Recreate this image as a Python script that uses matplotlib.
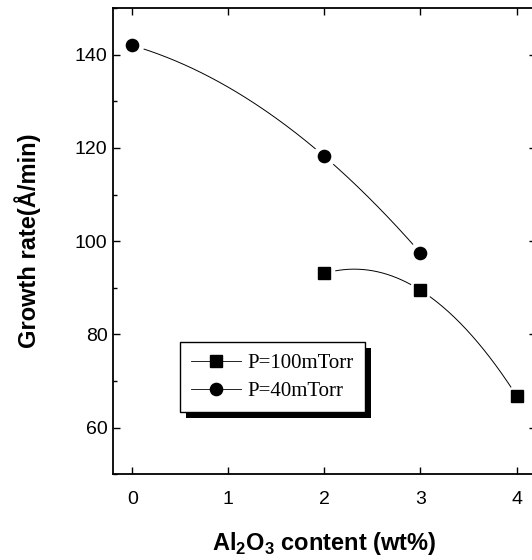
import numpy as np
import matplotlib
matplotlib.use('Agg')
import matplotlib.pyplot as plt
from matplotlib.patches import Rectangle
from matplotlib.transforms import IdentityTransform

# data
x_40 = [0, 2, 3]
y_40 = [142.0, 118.2, 97.5]
x_100 = [2, 3, 4]
y_100 = [93.1, 89.5, 66.9]
xticks = [0, 1, 2, 3, 4]
yticks = [60, 80, 100, 120, 140]

plt.rcParams['font.family'] = ['Liberation Sans', 'DejaVu Sans']

fig = plt.figure(figsize=(5.32, 5.6), dpi=100)
ax = fig.add_axes([0.2124, 0.1529, 0.7946, 0.8326])


def smooth(xs, ys):
    # quadratic through the three points, like the Origin spline
    c = np.polyfit(xs, ys, 2)
    xx = np.linspace(xs[0], xs[-1], 200)
    return xx, np.polyval(c, xx)


for xs, ys, m, ms in [(x_100, y_100, 's', 8.0), (x_40, y_40, 'o', 8.8)]:
    xx, yy = smooth(xs, ys)
    ax.plot(xx, yy, color='k', lw=0.7, zorder=2)
    ax.plot(xs, ys, ls='none', marker='o', ms=ms + 7, color='white', zorder=3)
    ax.plot(xs, ys, ls='none', marker=m, ms=ms, color='k', zorder=4)

# legend handles
h1, = ax.plot([], [], color='k', lw=0.6, marker='s', ms=8.0, label='P=100mTorr')
h2, = ax.plot([], [], color='k', lw=0.6, marker='o', ms=8.8, label='P=40mTorr')

ax.set_xlim(-0.2, 4.2)
ax.set_ylim(50, 150)
ax.set_xticks(xticks)
ax.set_yticks(yticks)
ax.set_yticks(np.arange(50, 151, 10), minor=True)
ax.tick_params(which='both', direction='in', top=True, right=True, labelsize=14, width=1.0)
ax.tick_params(which='major', length=5)
ax.tick_params(which='minor', length=3)
ax.tick_params(axis='x', pad=12)
ax.tick_params(axis='y', pad=4)
for s in ax.spines.values():
    s.set_linewidth(1.3)

ax.set_xlabel('Al$_\\mathregular{2}$O$_\\mathregular{3}$ content (wt%)', fontsize=17,
              fontweight='bold', labelpad=16)
ax.set_ylabel('Growth rate(Å/min)', fontsize=17, fontweight='bold', labelpad=24)

leg = ax.legend(handles=[h1, h2], loc='upper left', bbox_to_anchor=(0.158, 0.284),
                borderaxespad=0, frameon=True, fancybox=False, edgecolor='k', framealpha=1,
                prop={'family': 'Liberation Serif', 'size': 15},
                handlelength=2.4, handletextpad=0.3, borderpad=0.55, labelspacing=0.4)
leg.get_frame().set_linewidth(1.0)
leg.set_zorder(6)

fig.canvas.draw()
bb = leg.get_window_extent()
shadow = Rectangle((bb.x0 + 6, bb.y0 - 6), bb.width, bb.height, transform=IdentityTransform(),
                   facecolor='k', edgecolor='none', zorder=5)
ax.add_artist(shadow)

fig.savefig('out.png', dpi=100)
